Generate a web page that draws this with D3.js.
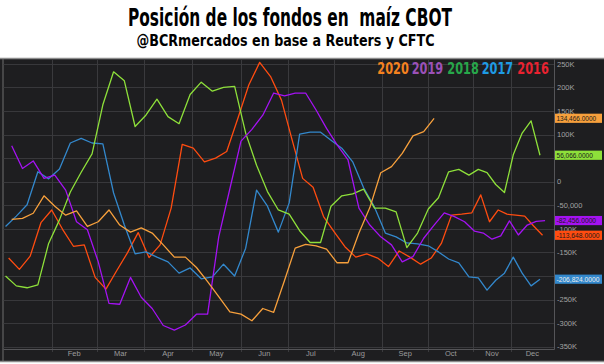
<!DOCTYPE html>
<html>
<head>
<meta charset="utf-8">
<script src="https://cdn.jsdelivr.net/npm/d3@7"></script>
<style>
  html, body { margin: 0; padding: 0; background: #fff; }
  svg { display: block; }
</style>
</head>
<body>
<div id="chart"></div>
<script>
// --- data (net position of funds, thousands of contracts, weekly) ---
var years = ["2020", "2019", "2018", "2017", "2016"];
var startDates = ["2020-01-06", "2020-01-06", "2020-01-02", "2020-01-02", "2020-01-04"];

var v2020 = [-80, -78, -67, -30, -52, -71, -62, -95, -85, -60,
  -92, -107, -98, -109, -134, -160, -160, -182, -212, -244,
  -276, -281, -295, -269, -277, -209, -141, -133, -136, -143,
  -172, -172, -109, -55, 19, 32, 60, 97, 106, 134.466];
var v2019 = [76, 28, 44, 7, 14, -18, -85, -102, -170, -258,
  -260, -203, -245, -269, -305, -315, -304, -281, -281, -117,
  -15, 86, 111, 141, 188, 182, 188, 188, 152, 113,
  78, 46, -56, -92, -117, -134, -170, -159, -120, -92,
  -66, -74, -85, -105, -109, -122, -115, -83, -113, -92,
  -84, -82.456];
var v2018 = [-200, -221, -225, -219, -131, -81, -22, 20, 59, 163,
  233, 214, 117, 141, 175, 138, 123, 185, 211, 192,
  200, 202, 103, 35, -21, -60, -69, -104, -129, -129,
  -52, -30, -26, -16, -56, -56, -64, -140, -109, -58,
  -34, 21, 26, 14, 26, 19, -6, -23, 57, 103,
  129, 56.066];
var v2017 = [-95, -73, -49, 21, 6, 27, 82, 92, 82, 80,
  -24, -92, -153, -149, -160, -170, -194, -183, -206, -202,
  -175, -200, -141, -18, -52, -107, -45, 101, 105, 105,
  88, 71, 42, -13, -54, -109, -117, -130, -132, -136,
  -149, -164, -172, -202, -204, -230, -209, -194, -160, -194,
  -221, -206.824];
var v2016 = [-162, -186, -158, -87, -60, -101, -137, -134, -203, -228,
  -189, -151, -108, -161, -134, -56, 79, 71, 42, 50,
  64, 134, 205, 253, 223, 173, 88, 7, -12, -74,
  -106, -138, -160, -153, -162, -180, -147, -160, -175, -162,
  -131, -71, -69, -66, -28, -85, -60, -69, -71, -73,
  -94, -113.648];
var seriesValues = [v2020, v2019, v2018, v2017, v2016];

var monthLabels = ["Feb", "Mar", "Apr", "May", "Jun", "Jul", "Aug", "Sep", "Oct", "Nov", "Dec"];
var yTickValues = [250, 200, 150, 100, 50, 0, -50, -100, -150, -200, -250, -300, -350];
var yTickLabels = ["250K", "200K", "150K", "100K", "50K", "0", "-50,000", "-100K", "-150K", "-200K", "-250K", "-300K", "-350K"];

// --- styles ---
var lineColors = ["#f7a03c", "#a412f2", "#8ee03a", "#3388cc", "#ff4c10"];
var legendColors = ["#f5821f", "#9b51b8", "#27a74a", "#1e9be5", "#ea2230"];

var W = 604, H = 364;
var plot = { left: 3.5, right: 554, top: 59.5, bottom: 349 };
var condensed = "'Liberation Sans Narrow', 'DejaVu Sans Condensed', 'Arial Narrow', sans-serif";
var small = "'Liberation Sans', Arial, sans-serif";

var svg = d3.select("#chart").append("svg")
  .attr("width", W).attr("height", H);

// titles
svg.append("text")
  .attr("x", 128).attr("y", 26)
  .attr("textLength", 324).attr("lengthAdjust", "spacingAndGlyphs")
  .style("font-family", condensed).style("font-weight", "bold")
  .style("font-size", "24px").style("white-space", "pre").attr("fill", "#000")
  .text("Posición de los fondos en  maíz CBOT");
svg.append("text")
  .attr("x", 136.5).attr("y", 45.5)
  .attr("textLength", 298).attr("lengthAdjust", "spacingAndGlyphs")
  .style("font-family", condensed).style("font-weight", "bold")
  .style("font-size", "15px").attr("fill", "#000")
  .text("@BCRmercados en base a Reuters y CFTC");

// dark panel
svg.append("rect")
  .attr("x", -2).attr("y", 58.5).attr("width", W + 10).attr("height", 303)
  .attr("fill", "#1e1e20").attr("stroke", "#8c8c8c").attr("stroke-width", 1.5);
svg.append("rect")
  .attr("x", 2.5).attr("y", 59.2).attr("width", 1).attr("height", 302)
  .attr("fill", "#6e6e6e");

// scales: time axis with month breaks as on the original platform
var parse = d3.timeParse("%Y-%m-%d");
var monthStarts = d3.range(0, 12).map(function(m) { return new Date(2020, m, 1); });
monthStarts.push(new Date(2021, 0, 4));
var monthPx = [4, 51.7, 96.7, 144.3, 191.7, 241, 287.7, 334, 382.3, 428.3, 473.3, 510.7, 554];
var x = d3.scaleTime().domain(monthStarts).range(monthPx);
var y = d3.scaleLinear().domain([-350, 250]).range([346.7, 63.8]);

var grid = svg.append("g");
grid.selectAll("line.h").data(yTickValues).enter().append("line")
  .attr("x1", plot.left).attr("x2", plot.right)
  .attr("y1", function(d) { return Math.round(y(d)) + 0.5; })
  .attr("y2", function(d) { return Math.round(y(d)) + 0.5; })
  .attr("stroke", "#38383b").attr("stroke-width", 1);
grid.selectAll("line.v").data(monthStarts.slice(1, 12)).enter().append("line")
  .attr("x1", function(d) { return Math.round(x(d)) + 0.5; })
  .attr("x2", function(d) { return Math.round(x(d)) + 0.5; })
  .attr("y1", plot.top).attr("y2", plot.bottom + 3)
  .attr("stroke", "#3a3a3d").attr("stroke-width", 1);

// axis lines
svg.append("line").attr("x1", plot.left).attr("x2", plot.right + 0.5)
  .attr("y1", plot.bottom + 0.5).attr("y2", plot.bottom + 0.5)
  .attr("stroke", "#555558");
svg.append("line").attr("x1", plot.right + 0.5).attr("x2", plot.right + 0.5)
  .attr("y1", plot.top).attr("y2", plot.bottom + 0.5)
  .attr("stroke", "#555558");

// month labels centred in each month
svg.selectAll("text.month").data(monthLabels).enter().append("text")
  .attr("x", function(d, i) { return (x(monthStarts[i + 1]) + x(monthStarts[i + 2])) / 2; })
  .attr("y", 355.5)
  .attr("text-anchor", "middle")
  .style("font-family", small).style("font-size", "7.5px")
  .attr("fill", "#9c9c9c")
  .text(function(d) { return d; });

// lines
svg.append("clipPath").attr("id", "clip").append("rect")
  .attr("x", plot.left).attr("y", plot.top)
  .attr("width", plot.right - plot.left).attr("height", plot.bottom - plot.top);

var series = years.map(function(yr, k) {
  var s = parse(startDates[k]);
  return {
    year: yr,
    color: lineColors[k],
    points: seriesValues[k].map(function(v, i) {
      return { date: d3.timeDay.offset(s, 7 * i), value: v };
    })
  };
});

var line = d3.line()
  .x(function(d) { return x(d.date); })
  .y(function(d) { return y(d.value); });

svg.append("g").attr("clip-path", "url(#clip)")
  .selectAll("path").data(series.slice().reverse()).enter().append("path")
  .attr("d", function(d) { return line(d.points); })
  .attr("fill", "none")
  .attr("stroke", function(d) { return d.color; })
  .attr("stroke-width", 1.3)
  .attr("stroke-linejoin", "round");

// last value of every series, shown as a box on the axis
var fmt = d3.format(",.4f");
var last = series.map(function(s, k) {
  var p = s.points[s.points.length - 1];
  return {
    value: p.value, color: s.color,
    label: fmt(p.value * 1000).replace("\u2212", "-"),
    text: k === 3 ? "#eeeeee" : "#1a1a1a"
  };
});

// right axis labels (the ones sitting fully under a value box are not visible)
var shownTicks = yTickValues.filter(function(t) {
  return !last.some(function(b) { return Math.abs(y(b.value) - y(t)) < 4; });
});
svg.selectAll("text.ytick").data(shownTicks).enter().append("text")
  .attr("x", 557).attr("y", function(d) { return y(d) + 2.7; })
  .style("font-family", small).style("font-size", "7.5px")
  .attr("fill", "#a2a2a2")
  .text(function(d) { return yTickLabels[yTickValues.indexOf(d)]; });

var boxes = svg.selectAll("g.box").data(last).enter().append("g")
  .attr("transform", function(d) { return "translate(555," + y(d.value) + ")"; });
boxes.append("rect")
  .attr("x", 0).attr("y", -4.6).attr("width", 47).attr("height", 9.2)
  .attr("fill", function(d) { return d.color; });
boxes.append("text")
  .attr("x", 1.5).attr("y", 2.7)
  .attr("textLength", function(d) { return d.label.length * 3.3; })
  .attr("lengthAdjust", "spacingAndGlyphs")
  .style("font-family", small).style("font-size", "7.4px")
  .attr("fill", function(d) { return d.text; })
  .text(function(d) { return d.label; });

// legend
var legendX = [377.3, 411.7, 447.3, 481.7, 517.3];
svg.selectAll("text.legend").data(years).enter().append("text")
  .attr("x", function(d, i) { return legendX[i]; })
  .attr("y", 73.5)
  .attr("textLength", 31.5).attr("lengthAdjust", "spacingAndGlyphs")
  .style("font-family", condensed).style("font-weight", "bold")
  .style("font-size", "16.5px")
  .attr("fill", function(d, i) { return legendColors[i]; })
  .text(function(d) { return d; });
</script>
</body>
</html>
